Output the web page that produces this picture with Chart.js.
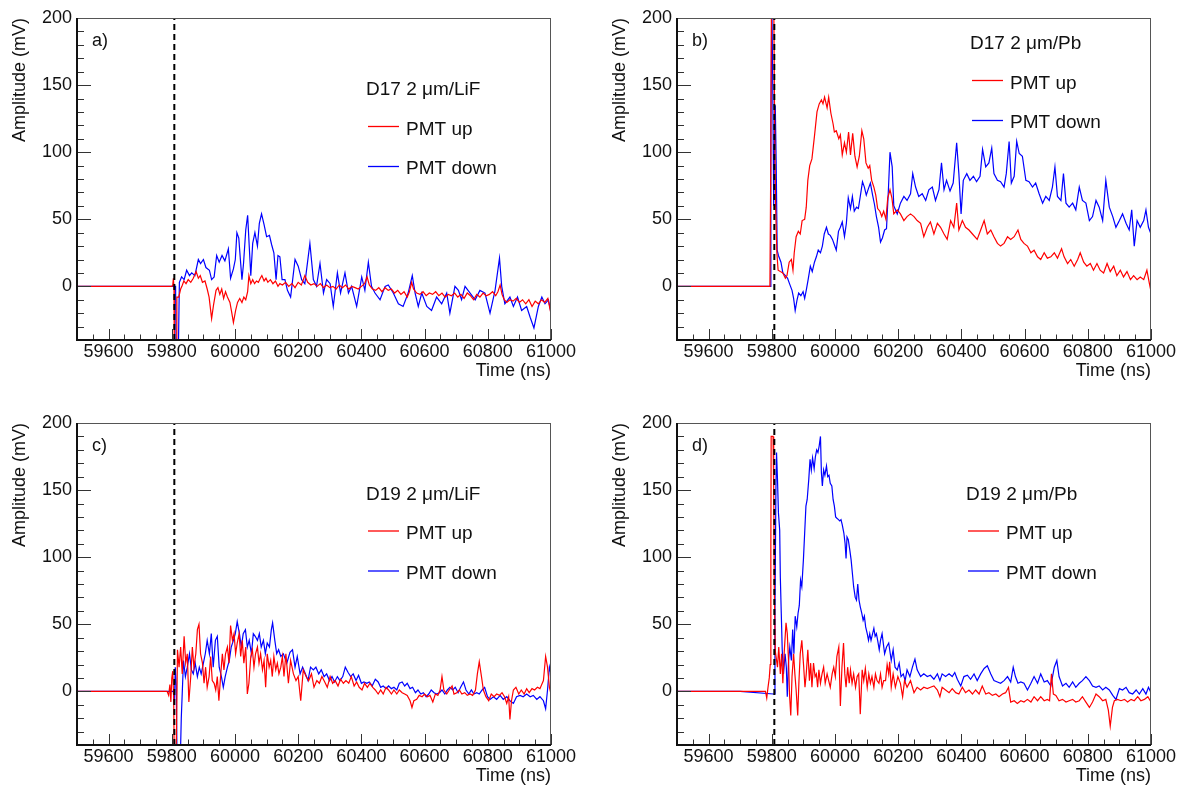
<!DOCTYPE html>
<html lang="en">
<head>
<meta charset="UTF-8">
<title>PMT waveforms</title>
<script src="https://cdn.jsdelivr.net/npm/chart.js"></script>
<style>
    body {
        margin: 0;
        background: #fff;
        width: 1179px;
        height: 787px;
        overflow: hidden;
        position: relative;
    }
    .pad { position: absolute; }
    canvas { display: block; }
</style>
</head>
<body>
<div class="pad" style="left:0px;top:0px"><canvas id="padA" width="590" height="395"></canvas></div>
<div class="pad" style="left:600px;top:0px"><canvas id="padB" width="589" height="395"></canvas></div>
<div class="pad" style="left:0px;top:405px"><canvas id="padC" width="590" height="382"></canvas></div>
<div class="pad" style="left:600px;top:405px"><canvas id="padD" width="589" height="382"></canvas></div>

<script>
// axis ranges and labels
const xMin = 59500, xMax = 61000;
const yMin = -40, yMax = 200;
const xLabels = [59600, 59800, 60000, 60200, 60400, 60600, 60800, 61000];
const yLabels = [0, 50, 100, 150, 200];
const triggerTime = 59808;   // dashed line

// waveforms: [time ns, amplitude mV]
const aUp = [[59500,0],[59600,0],[59700,0],[59800,0],[59803,1],[59805,6],[59807,-2],[59808,-60],[59814,-60],[59816,-8],[59822,-8],[59828,-2],[59832,0],[59838,4],[59845,2],[59852,5],[59860,3],[59868,6],[59877,11],[59884,6],[59890,8],[59897,3],[59905,4],[59912,-2],[59918,-8],[59926,-24],[59932,-14],[59940,-3],[59946,-1],[59952,-6],[59958,-2],[59964,-9],[59970,-4],[59976,-8],[59984,-12],[59990,-20],[59995,-27],[60002,-18],[60008,-12],[60015,-9],[60022,-12],[60028,-8],[60034,-10],[60040,-4],[60044,8],[60050,2],[60056,5],[60062,2],[60068,4],[60074,3],[60080,6],[60085,8],[60092,4],[60098,6],[60104,3],[60112,5],[60120,2],[60128,4],[60136,0],[60142,2],[60150,1],[60160,3],[60170,0],[60180,2],[60190,-1],[60200,3],[60210,1],[60221,8],[60230,3],[60240,1],[60250,2],[60260,0],[60270,2],[60280,-1],[60290,1],[60300,-1],[60310,0],[60320,-2],[60330,1],[60340,-1],[60350,1],[60360,-2],[60370,0],[60380,-1],[60390,-2],[60400,0],[60410,2],[60418,7],[60425,1],[60435,-2],[60445,-3],[60455,-1],[60465,-4],[60475,-1],[60485,-3],[60495,-2],[60505,-5],[60515,-3],[60525,-6],[60535,-4],[60545,-8],[60552,-4],[60559,3],[60565,-2],[60575,-5],[60585,-6],[60595,-4],[60605,-7],[60615,-5],[60625,-6],[60635,-4],[60645,-7],[60655,-5],[60665,-8],[60675,-6],[60685,-7],[60695,-5],[60705,-8],[60715,-6],[60725,-9],[60735,-5],[60745,-7],[60755,-10],[60765,-6],[60775,-8],[60785,-5],[60795,-7],[60805,-6],[60815,-4],[60825,-7],[60832,-4],[60839,1],[60845,-6],[60852,-10],[60860,-12],[60870,-10],[60880,-11],[60890,-9],[60900,-12],[60910,-10],[60920,-13],[60930,-10],[60940,-15],[60950,-11],[60960,-13],[60970,-10],[60980,-12],[60990,-9],[60997,-17],[61000,-14]];
const aDown = [[59500,0],[59600,0],[59700,0],[59800,0],[59812,0],[59814,-60],[59820,-60],[59824,3],[59831,7],[59839,5],[59847,12],[59856,8],[59863,10],[59873,8],[59884,20],[59891,17],[59900,20],[59908,14],[59919,12],[59926,5],[59934,7],[59942,23],[59950,18],[59959,23],[59968,19],[59979,28],[59986,6],[59995,13],[60001,20],[60006,40],[60012,36],[60017,20],[60022,5],[60027,17],[60034,42],[60040,53],[60045,30],[60050,8],[60056,32],[60063,40],[60071,30],[60077,47],[60084,54],[60092,46],[60100,37],[60109,38],[60116,31],[60123,25],[60130,5],[60136,23],[60142,22],[60149,5],[60158,5],[60166,-3],[60176,-8],[60190,20],[60200,15],[60211,5],[60221,2],[60237,32],[60248,5],[60258,0],[60269,17],[60280,-5],[60290,5],[60301,2],[60311,-15],[60324,10],[60334,-5],[60348,10],[60359,-5],[60369,0],[60385,-15],[60401,7],[60411,-3],[60422,18],[60432,0],[60443,-5],[60459,-10],[60475,0],[60485,1],[60501,-5],[60517,-13],[60532,-15],[60548,-5],[60561,8],[60570,-5],[60580,-15],[60591,-5],[60607,-15],[60622,-18],[60638,-8],[60654,-13],[60670,-5],[60680,-20],[60696,0],[60707,-3],[60717,-10],[60728,0],[60744,-5],[60760,-10],[60775,-3],[60791,-5],[60807,-20],[60823,-3],[60837,21],[60844,0],[60854,-13],[60870,-8],[60881,-15],[60894,-8],[60907,-18],[60923,-15],[60934,-23],[60946,-31],[60960,-15],[60971,-8],[60981,-13],[60992,-10],[61000,-20]];

const bUp = [[59500,0],[59600,0],[59700,0],[59794,0],[59797,100],[59799,220],[59806,220],[59809,120],[59812,60],[59816,25],[59820,12],[59827,11],[59835,10],[59843,6],[59848,8],[59855,18],[59862,20],[59867,12],[59871,25],[59877,37],[59884,41],[59890,39],[59896,49],[59904,50],[59909,59],[59914,79],[59920,90],[59927,95],[59935,112],[59943,130],[59950,136],[59957,139],[59962,136],[59967,141],[59975,133],[59980,141],[59987,129],[59994,121],[59998,115],[60004,116],[60012,110],[60017,113],[60023,98],[60030,107],[60036,100],[60043,115],[60049,98],[60056,114],[60063,97],[60070,89],[60077,97],[60085,116],[60091,110],[60098,92],[60105,88],[60110,90],[60116,79],[60123,74],[60129,68],[60135,58],[60142,56],[60148,52],[60154,56],[60161,50],[60167,66],[60174,72],[60180,66],[60186,54],[60197,57],[60207,54],[60218,49],[60228,52],[60239,54],[60250,52],[60260,49],[60271,47],[60281,37],[60292,44],[60302,48],[60313,39],[60324,47],[60334,44],[60345,39],[60355,35],[60366,49],[60376,44],[60385,62],[60392,42],[60403,49],[60413,44],[60424,42],[60435,39],[60450,35],[60461,42],[60472,49],[60482,39],[60493,42],[60503,37],[60514,32],[60524,30],[60535,32],[60546,37],[60556,35],[60567,37],[60579,42],[60588,35],[60598,32],[60609,30],[60620,25],[60630,27],[60641,22],[60651,20],[60662,25],[60672,21],[60683,22],[60694,25],[60704,21],[60717,28],[60725,22],[60736,17],[60746,20],[60757,15],[60768,20],[60776,25],[60787,18],[60797,15],[60808,17],[60818,12],[60829,17],[60839,12],[60850,10],[60861,17],[60871,11],[60882,15],[60892,8],[60903,12],[60913,7],[60924,11],[60935,5],[60945,8],[60956,5],[60966,7],[60977,5],[60987,12],[60995,2],[61000,-4]];
const bDown = [[59500,0],[59600,0],[59700,0],[59795,0],[59797,120],[59800,215],[59803,150],[59806,60],[59809,110],[59811,135],[59814,90],[59817,27],[59821,23],[59829,18],[59835,10],[59843,8],[59850,6],[59856,2],[59864,-3],[59869,-9],[59874,-18],[59880,-10],[59885,-5],[59892,-7],[59899,-4],[59904,-9],[59909,-3],[59915,5],[59922,15],[59928,11],[59935,18],[59941,22],[59947,27],[59954,25],[59960,30],[59966,39],[59973,44],[59979,39],[59985,38],[59992,35],[59998,31],[60004,27],[60011,41],[60017,44],[60023,48],[60030,37],[60036,47],[60042,66],[60049,58],[60055,67],[60061,56],[60068,59],[60074,58],[60080,67],[60087,78],[60093,74],[60099,68],[60106,73],[60112,77],[60119,68],[60125,61],[60131,52],[60138,44],[60144,33],[60150,36],[60157,42],[60163,43],[60169,72],[60174,100],[60181,89],[60186,60],[60197,54],[60207,62],[60218,67],[60228,64],[60239,69],[60246,84],[60255,74],[60265,67],[60276,69],[60287,64],[60297,72],[60308,74],[60318,64],[60329,72],[60337,92],[60345,72],[60353,79],[60364,71],[60374,77],[60385,107],[60392,84],[60399,54],[60406,79],[60417,84],[60427,79],[60438,82],[60448,78],[60459,82],[60467,102],[60477,89],[60487,92],[60496,103],[60503,84],[60514,79],[60524,78],[60535,74],[60542,84],[60551,108],[60558,77],[60567,82],[60575,108],[60583,99],[60593,97],[60604,79],[60614,78],[60625,74],[60635,77],[60646,69],[60657,62],[60667,67],[60678,64],[60688,74],[60696,89],[60704,67],[60715,64],[60723,84],[60731,62],[60741,59],[60752,62],[60762,57],[60773,74],[60783,64],[60794,62],[60805,49],[60815,52],[60826,64],[60836,59],[60847,49],[60857,79],[60868,59],[60879,52],[60889,44],[60900,49],[60910,54],[60921,47],[60931,42],[60939,57],[60947,30],[60956,49],[60966,44],[60977,49],[60984,57],[60992,44],[61000,39]];

const cUp = [[59500,0],[59600,0],[59700,0],[59785,0],[59790,-3],[59794,5],[59797,-8],[59800,10],[59803,15],[59806,-5],[59808,-60],[59813,-60],[59816,-10],[59818,31],[59823,18],[59828,33],[59833,13],[59839,41],[59844,21],[59849,28],[59854,-8],[59860,11],[59865,33],[59870,18],[59876,28],[59881,46],[59886,50],[59891,28],[59897,21],[59902,6],[59907,18],[59912,3],[59918,11],[59923,26],[59928,8],[59934,6],[59939,1],[59944,11],[59949,-7],[59955,13],[59960,28],[59965,16],[59970,28],[59976,33],[59981,21],[59986,49],[59992,38],[59997,43],[60002,28],[60007,36],[60013,43],[60018,26],[60023,38],[60028,21],[60034,33],[60039,-2],[60044,6],[60050,26],[60055,31],[60060,18],[60065,28],[60071,33],[60076,21],[60081,28],[60087,16],[60092,23],[60097,3],[60102,28],[60108,18],[60113,23],[60118,11],[60123,26],[60129,16],[60134,21],[60139,13],[60145,18],[60150,26],[60155,11],[60161,28],[60169,6],[60176,23],[60185,13],[60193,8],[60200,11],[60208,-7],[60216,16],[60225,11],[60233,8],[60242,13],[60250,3],[60259,8],[60267,6],[60275,11],[60284,7],[60292,3],[60301,11],[60309,6],[60317,8],[60326,4],[60334,9],[60343,6],[60351,8],[60360,6],[60368,11],[60377,4],[60385,7],[60393,3],[60402,1],[60410,6],[60419,3],[60427,6],[60436,3],[60444,1],[60453,-2],[60461,1],[60469,-2],[60478,3],[60486,1],[60495,-2],[60503,1],[60512,-2],[60520,1],[60529,-1],[60537,-2],[60545,-3],[60554,-7],[60560,-12],[60566,-7],[60575,-6],[60583,-3],[60592,-4],[60600,-2],[60609,-4],[60617,-3],[60626,-8],[60634,-2],[60642,-3],[60649,1],[60655,11],[60661,1],[60670,-2],[60678,1],[60687,4],[60693,-2],[60702,-1],[60710,1],[60718,-2],[60727,-1],[60735,-3],[60744,-2],[60752,-3],[60761,1],[60767,13],[60773,22],[60780,11],[60786,1],[60794,-4],[60803,-7],[60811,-2],[60820,-4],[60828,-2],[60837,-3],[60845,-1],[60853,-4],[60860,-9],[60866,-4],[60870,-21],[60875,-7],[60881,1],[60889,3],[60898,-2],[60906,1],[60915,-2],[60923,2],[60931,-1],[60940,2],[60948,1],[60957,3],[60965,2],[60976,8],[60983,26],[60989,18],[60995,3],[61000,-2]];
const cDown = [[59500,0],[59600,0],[59700,0],[59805,0],[59808,-10],[59811,18],[59814,5],[59817,-60],[59826,-60],[59830,-20],[59837,23],[59843,11],[59849,18],[59856,28],[59862,16],[59868,13],[59874,21],[59881,11],[59887,18],[59893,13],[59900,21],[59906,28],[59912,38],[59919,28],[59925,43],[59931,18],[59938,38],[59944,41],[59950,18],[59957,11],[59963,3],[59969,11],[59976,18],[59982,23],[59988,33],[59995,38],[60001,43],[60007,52],[60014,43],[60020,33],[60026,43],[60033,46],[60039,33],[60045,38],[60052,28],[60058,43],[60064,41],[60071,38],[60077,43],[60083,33],[60090,38],[60096,28],[60102,36],[60109,33],[60115,46],[60119,51],[60126,38],[60132,28],[60138,31],[60145,26],[60153,28],[60164,21],[60174,29],[60182,31],[60190,18],[60197,26],[60206,13],[60214,18],[60223,13],[60231,8],[60239,18],[60248,16],[60256,18],[60265,13],[60273,16],[60282,11],[60290,13],[60299,8],[60307,11],[60315,7],[60324,11],[60332,8],[60341,11],[60349,18],[60358,14],[60366,11],[60374,13],[60383,8],[60391,12],[60400,6],[60408,7],[60417,6],[60425,7],[60434,4],[60444,9],[60453,7],[60461,3],[60469,4],[60478,2],[60486,4],[60495,2],[60503,3],[60512,1],[60520,6],[60529,7],[60537,4],[60545,6],[60554,2],[60562,3],[60571,-1],[60579,1],[60588,-2],[60596,-1],[60605,-4],[60613,-2],[60621,1],[60630,-1],[60638,-2],[60647,-1],[60655,1],[60664,-2],[60672,1],[60680,3],[60689,1],[60697,3],[60706,-1],[60714,3],[60723,7],[60731,1],[60740,-2],[60748,1],[60756,-2],[60765,-1],[60773,-2],[60782,1],[60790,3],[60799,-4],[60807,-6],[60818,-4],[60828,-6],[60839,-3],[60849,-6],[60860,-4],[60870,-7],[60881,-9],[60891,-4],[60902,-3],[60912,-4],[60923,-2],[60934,-4],[60944,-3],[60955,-6],[60965,-4],[60976,-7],[60983,-13],[60989,1],[60995,18],[61000,13]];

const dUp = [[59500,0],[59600,0],[59700,0],[59780,0],[59784,-5],[59788,3],[59792,10],[59795,20],[59797,105],[59798,190],[59804,190],[59806,150],[59808,75],[59811,30],[59818,18],[59822,33],[59827,13],[59831,28],[59835,6],[59839,28],[59845,51],[59849,43],[59853,23],[59856,-2],[59860,-18],[59864,11],[59869,28],[59873,13],[59877,1],[59882,-18],[59886,8],[59890,28],[59895,38],[59901,18],[59905,3],[59909,13],[59914,31],[59919,8],[59923,21],[59927,3],[59932,21],[59937,11],[59941,13],[59945,3],[59949,16],[59954,6],[59959,13],[59964,18],[59969,6],[59975,13],[59980,8],[59985,3],[59991,13],[59996,18],[60001,11],[60006,26],[60012,33],[60017,-11],[60022,18],[60027,36],[60031,13],[60035,3],[60040,18],[60045,6],[60049,16],[60054,6],[60059,13],[60065,3],[60070,11],[60075,13],[60080,-17],[60086,16],[60091,8],[60096,17],[60102,3],[60107,13],[60112,6],[60117,11],[60123,3],[60128,13],[60133,8],[60139,6],[60144,13],[60149,3],[60154,8],[60160,8],[60165,20],[60170,13],[60173,22],[60178,3],[60184,13],[60191,3],[60199,11],[60207,6],[60214,-4],[60220,8],[60228,3],[60239,8],[60250,-1],[60260,3],[60271,1],[60281,3],[60292,2],[60302,3],[60313,4],[60324,1],[60332,-4],[60339,3],[60350,1],[60361,-1],[60371,2],[60382,-1],[60392,-2],[60403,3],[60413,-1],[60424,1],[60435,-2],[60445,1],[60456,-2],[60466,4],[60477,-2],[60487,-1],[60498,-3],[60509,-2],[60519,-4],[60530,-2],[60540,-1],[60549,3],[60556,-8],[60567,-7],[60577,-9],[60588,-7],[60598,-8],[60609,-6],[60620,-8],[60630,-4],[60641,-7],[60651,-4],[60662,-7],[60672,-6],[60679,-7],[60685,13],[60691,-2],[60699,-3],[60709,-7],[60720,-6],[60731,-8],[60741,-7],[60752,-6],[60762,-8],[60773,-7],[60783,-4],[60794,-8],[60805,-12],[60815,-8],[60826,-2],[60836,-4],[60847,-7],[60857,-6],[60865,-14],[60871,-26],[60878,-12],[60884,-7],[60894,-6],[60905,-7],[60916,-6],[60926,-8],[60937,-6],[60947,-7],[60958,-4],[60968,-7],[60979,-6],[60990,-4],[61000,-8]];
const dDown = [[59500,0],[59600,0],[59700,0],[59805,-2],[59808,-2],[59810,60],[59813,150],[59815,178],[59818,158],[59821,133],[59825,120],[59827,85],[59830,58],[59833,31],[59837,13],[59842,28],[59846,18],[59849,-4],[59853,23],[59857,33],[59862,23],[59866,46],[59870,28],[59874,56],[59879,48],[59883,58],[59887,64],[59891,83],[59895,78],[59900,98],[59904,118],[59908,138],[59912,143],[59917,158],[59921,173],[59925,165],[59929,174],[59934,166],[59938,175],[59942,180],[59946,178],[59950,183],[59954,190],[59957,163],[59960,153],[59964,165],[59968,161],[59973,168],[59977,160],[59981,161],[59985,155],[59990,153],[59994,143],[59998,138],[60002,130],[60006,129],[60011,128],[60015,127],[60019,128],[60023,124],[60028,118],[60032,110],[60035,99],[60038,115],[60042,113],[60047,105],[60051,98],[60055,88],[60059,78],[60064,70],[60068,68],[60072,80],[60076,68],[60080,63],[60085,58],[60089,53],[60093,56],[60097,48],[60102,43],[60106,38],[60110,43],[60114,38],[60119,43],[60123,47],[60127,41],[60131,43],[60135,38],[60140,31],[60144,38],[60149,43],[60157,28],[60163,33],[60170,36],[60178,23],[60184,31],[60190,18],[60197,16],[60203,21],[60209,11],[60216,13],[60222,8],[60228,16],[60237,11],[60245,18],[60253,24],[60260,16],[60271,11],[60281,13],[60292,11],[60302,12],[60313,9],[60324,13],[60332,8],[60339,13],[60350,11],[60361,13],[60371,11],[60379,14],[60387,9],[60398,4],[60408,11],[60419,12],[60429,9],[60440,13],[60450,8],[60461,13],[60472,17],[60482,19],[60493,13],[60503,8],[60514,7],[60524,6],[60535,8],[60546,11],[60556,7],[60564,18],[60571,11],[60579,6],[60588,7],[60598,6],[60609,1],[60620,6],[60630,11],[60641,6],[60651,13],[60662,7],[60672,8],[60683,4],[60694,18],[60702,23],[60709,11],[60720,4],[60731,6],[60741,3],[60752,7],[60762,3],[60773,6],[60783,8],[60794,11],[60805,8],[60815,4],[60826,3],[60836,4],[60847,1],[60857,3],[60868,1],[60879,-3],[60889,-6],[60900,2],[60910,1],[60921,3],[60931,-1],[60942,-2],[60953,1],[60963,-2],[60974,2],[60984,-2],[60992,3],[61000,-1]];

const FONT = '"Liberation Sans", Arial, Helvetica, sans-serif';
const RED = '#ff0000', BLUE = '#0000ff';

// ROOT-like frame, inside ticks, labels and legend
const rootFrame = {
    id: 'rootFrame',
    afterDraw(chart, args, opts) {
        const ctx = chart.ctx;
        const a = chart.chartArea;
        const x = chart.scales.x, y = chart.scales.y;
        ctx.save();

        // tick marks
        ctx.strokeStyle = '#333';
        ctx.lineWidth = 1;
        ctx.beginPath();
        for (let t = xMin; t <= xMax; t += 50) {
            const px = Math.round(x.getPixelForValue(t)) + 0.5;
            const len = (t % 200 === 0) ? 11 : 5.5;
            ctx.moveTo(px, a.bottom);
            ctx.lineTo(px, a.bottom - len);
        }
        for (let v = yMin; v <= yMax; v += 10) {
            const py = Math.round(y.getPixelForValue(v)) + 0.5;
            const len = (v % 50 === 0) ? 14 : 7;
            ctx.moveTo(a.left, py);
            ctx.lineTo(a.left + len, py);
        }
        ctx.stroke();

        // frame box
        ctx.strokeStyle = '#555';
        ctx.lineWidth = 1;
        ctx.strokeRect(a.left + 0.5, a.top + 0.5, a.right - a.left - 1, a.bottom - a.top - 1);
        ctx.strokeStyle = '#111';
        ctx.lineWidth = 2;
        ctx.beginPath();
        ctx.moveTo(a.left, a.top);
        ctx.lineTo(a.left, a.bottom);
        ctx.lineTo(a.right, a.bottom);
        ctx.stroke();

        // tick labels
        ctx.fillStyle = '#111';
        ctx.font = '18px ' + FONT;
        ctx.textAlign = 'center';
        ctx.textBaseline = 'middle';
        xLabels.forEach(t => ctx.fillText(String(t), x.getPixelForValue(t), a.bottom + 12));
        ctx.textAlign = 'right';
        yLabels.forEach(v => ctx.fillText(String(v), a.left - 5, y.getPixelForValue(v)));

        // axis titles
        ctx.textAlign = 'right';
        ctx.fillText('Time (ns)', a.right, a.bottom + 31);
        ctx.save();
        ctx.translate(20, a.top);
        ctx.rotate(-Math.PI / 2);
        ctx.fillText('Amplitude (mV)', 0, 0);
        ctx.restore();

        // panel tag
        ctx.textAlign = 'left';
        ctx.fillText(opts.tag, a.left + 15, a.top + 23);

        // legend
        const lx = opts.legX, ly = opts.legY;
        ctx.font = '19px ' + FONT;
        ctx.fillText(opts.title, lx, ly);
        ctx.fillText('PMT up', lx + 40, ly + 39.5);
        ctx.fillText('PMT down', lx + 40, ly + 79);
        ctx.lineWidth = 1.3;
        ctx.strokeStyle = RED;
        ctx.beginPath(); ctx.moveTo(lx + 2, ly + 36.5); ctx.lineTo(lx + 33, ly + 36.5); ctx.stroke();
        ctx.strokeStyle = BLUE;
        ctx.beginPath(); ctx.moveTo(lx + 2, ly + 76.5); ctx.lineTo(lx + 33, ly + 76.5); ctx.stroke();

        ctx.restore();
    }
};

function toPoints(arr) {
    return arr.map(p => ({x: p[0], y: p[1]}));
}

function makePanel(id, tag, title, up, down, legX, legY) {
    const canvas = document.getElementById(id);
    const w = canvas.width, h = canvas.height;
    return new Chart(canvas.getContext('2d'), {
        type: 'line',
        data: {
            datasets: [
                {
                    data: toPoints([[triggerTime, yMin], [triggerTime, yMax]]),
                    borderColor: '#000',
                    borderWidth: 2,
                    borderDash: [6, 4],
                    pointRadius: 0
                },
                {
                    label: 'PMT up',
                    data: toPoints(up),
                    borderColor: RED,
                    borderWidth: 1.2,
                    pointRadius: 0,
                    tension: 0
                },
                {
                    label: 'PMT down',
                    data: toPoints(down),
                    borderColor: BLUE,
                    borderWidth: 1.2,
                    pointRadius: 0,
                    tension: 0
                }
            ]
        },
        options: {
            responsive: false,
            animation: false,
            events: [],
            layout: {padding: {left: 77, top: 18, right: w - 551, bottom: h - 340}},
            plugins: {
                legend: {display: false},
                tooltip: {enabled: false},
                rootFrame: {tag: tag, title: title, legX: legX, legY: legY}
            },
            scales: {
                x: {type: 'linear', min: xMin, max: xMax, display: false},
                y: {type: 'linear', min: yMin, max: yMax, display: false}
            }
        },
        plugins: [rootFrame]
    });
}

makePanel('padA', 'a)', 'D17 2 \u03bcm/LiF', aUp, aDown, 366, 90);
makePanel('padB', 'b)', 'D17 2 \u03bcm/Pb', bUp, bDown, 370, 44);
makePanel('padC', 'c)', 'D19 2 \u03bcm/LiF', cUp, cDown, 366, 89.5);
makePanel('padD', 'd)', 'D19 2 \u03bcm/Pb', dUp, dDown, 366, 89.5);
</script>
</body>
</html>
